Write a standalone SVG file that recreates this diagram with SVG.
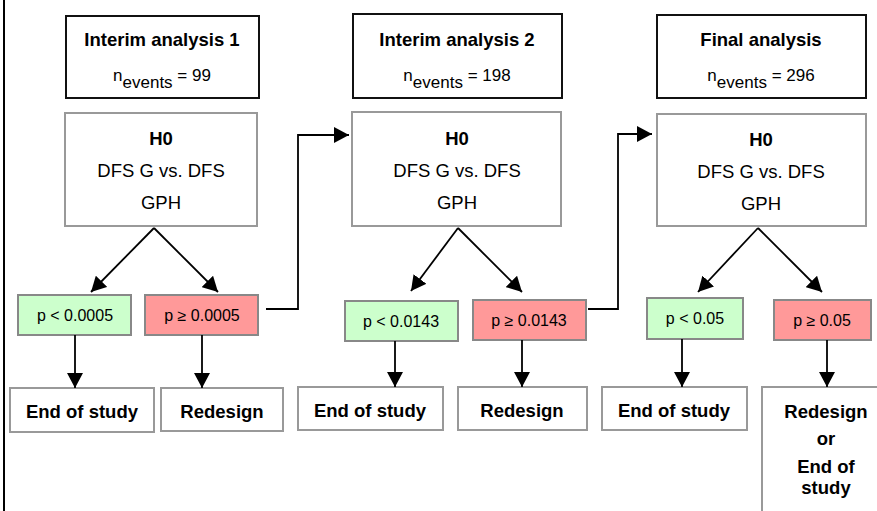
<svg xmlns="http://www.w3.org/2000/svg" width="877" height="511" viewBox="0 0 877 511">
<defs>
<marker id="ah" viewBox="0 0 15 16" refX="15" refY="8" markerWidth="15" markerHeight="16" markerUnits="userSpaceOnUse" orient="auto">
<path d="M0,0 L15,8 L0,16 z" fill="#000"/>
</marker>
<style>
text{font-family:"Liberation Sans",Arial,sans-serif;fill:#000;text-anchor:middle}
.b{font-weight:bold;font-size:18.5px}
.r{font-size:18.5px}
.p{font-size:16px}
.hdr{fill:#fff;stroke:#111;stroke-width:2}
.h0{fill:#fff;stroke:#999;stroke-width:2}
.g{fill:#ccffcc;stroke:#888;stroke-width:2}
.red{fill:#ff9999;stroke:#888;stroke-width:2}
.out{fill:#fff;stroke:#999;stroke-width:2}
.c{fill:none;stroke:#000;stroke-width:1.8}
</style>
</defs>
<rect width="877" height="511" fill="#fff"/>
<line x1="4" y1="0" x2="4" y2="511" stroke="#000" stroke-width="2"/>

<g id="hdr1"><rect class="hdr" x="66" y="16" width="193" height="82"/>
<text class="b" x="162" y="46">Interim analysis 1</text>
<text class="r" x="162" y="81"><tspan font-size="17">n</tspan><tspan font-size="17" dy="7">events</tspan><tspan font-size="17" dy="-7"> = 99</tspan></text></g>
<g id="h0a"><rect class="h0" x="65" y="113" width="192" height="113"/>
<text class="b" x="161" y="145">H0</text><text class="r" x="161" y="177">DFS G vs. DFS</text><text class="r" x="161" y="209">GPH</text></g>
<g id="pa1"><rect class="g" x="18" y="295" width="113" height="40"/><text class="p" x="75" y="321">p &lt; 0.0005</text></g>
<g id="pa2"><rect class="red" x="145" y="295" width="113" height="40"/><text class="p" x="202" y="321">p ≥ 0.0005</text></g>
<g id="oa1"><rect class="out" x="10" y="388" width="144" height="44"/><text class="b" x="82" y="418">End of study</text></g>
<g id="oa2"><rect class="out" x="161" y="388" width="122" height="43"/><text class="b" x="222" y="418">Redesign</text></g>

<g id="hdr2"><rect class="hdr" x="353" y="14" width="209" height="84"/>
<text class="b" x="457" y="46">Interim analysis 2</text>
<text class="r" x="457" y="81"><tspan font-size="17">n</tspan><tspan font-size="17" dy="7">events</tspan><tspan font-size="17" dy="-7"> = 198</tspan></text></g>
<g id="h0b"><rect class="h0" x="352" y="112" width="209" height="114"/>
<text class="b" x="457" y="145">H0</text><text class="r" x="457" y="177">DFS G vs. DFS</text><text class="r" x="457" y="209">GPH</text></g>
<g id="pb1"><rect class="g" x="345" y="301" width="113" height="40"/><text class="p" x="401" y="327">p &lt; 0.0143</text></g>
<g id="pb2"><rect class="red" x="473" y="300" width="113" height="40"/><text class="p" x="529" y="326">p ≥ 0.0143</text></g>
<g id="ob1"><rect class="out" x="298" y="387" width="145" height="43"/><text class="b" x="370" y="417">End of study</text></g>
<g id="ob2"><rect class="out" x="458" y="387" width="129" height="43"/><text class="b" x="522" y="417">Redesign</text></g>

<g id="hdr3"><rect class="hdr" x="657" y="15" width="209" height="83"/>
<text class="b" x="761" y="46">Final analysis</text>
<text class="r" x="761" y="81"><tspan font-size="17">n</tspan><tspan font-size="17" dy="7">events</tspan><tspan font-size="17" dy="-7"> = 296</tspan></text></g>
<g id="h0c"><rect class="h0" x="657" y="114" width="209" height="112"/>
<text class="b" x="761" y="146">H0</text><text class="r" x="761" y="178">DFS G vs. DFS</text><text class="r" x="761" y="210">GPH</text></g>
<g id="pc1"><rect class="g" x="647" y="298" width="96" height="41"/><text class="p" x="695" y="324">p &lt; 0.05</text></g>
<g id="pc2"><rect class="red" x="774" y="300" width="97" height="40"/><text class="p" x="822" y="326">p ≥ 0.05</text></g>
<g id="oc1"><rect class="out" x="602" y="387" width="145" height="43"/><text class="b" x="674" y="417">End of study</text></g>
<g id="oc2"><rect class="out" x="762" y="387" width="130" height="140"/>
<text class="b" x="826" y="418">Redesign</text><text class="b" x="826" y="445">or</text><text class="b" x="826" y="473">End of</text><text class="b" x="826" y="494">study</text></g>

<g id="connectors">
<line class="c" x1="154" y1="228" x2="91" y2="292" marker-end="url(#ah)"/>
<line class="c" x1="154" y1="228" x2="218" y2="292" marker-end="url(#ah)"/>
<line class="c" x1="75" y1="335" x2="75" y2="388" marker-end="url(#ah)"/>
<line class="c" x1="202" y1="335" x2="202" y2="388" marker-end="url(#ah)"/>
<polyline class="c" points="266,309 298,309 298,135 349,135" marker-end="url(#ah)"/>
<line class="c" x1="458" y1="228" x2="411" y2="291" marker-end="url(#ah)"/>
<line class="c" x1="458" y1="228" x2="522" y2="292" marker-end="url(#ah)"/>
<line class="c" x1="395" y1="341" x2="395" y2="387" marker-end="url(#ah)"/>
<line class="c" x1="522" y1="340" x2="522" y2="387" marker-end="url(#ah)"/>
<polyline class="c" points="588,309 618,309 618,134 652,134" marker-end="url(#ah)"/>
<line class="c" x1="758" y1="228" x2="698" y2="292" marker-end="url(#ah)"/>
<line class="c" x1="758" y1="228" x2="822" y2="292" marker-end="url(#ah)"/>
<line class="c" x1="682" y1="339" x2="682" y2="387" marker-end="url(#ah)"/>
<line class="c" x1="827" y1="340" x2="827" y2="387" marker-end="url(#ah)"/>
</g>
</svg>
